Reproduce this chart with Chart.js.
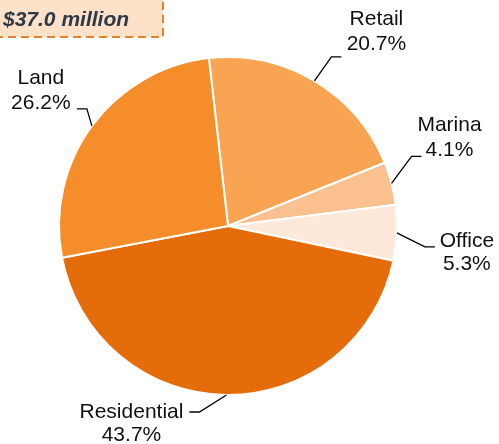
<!DOCTYPE html>
<html lang="en">
<head>
  <meta charset="UTF-8" />
  <title>Breakdown</title>
  <script src="https://cdn.jsdelivr.net/npm/chart.js"></script>
  <style>
    * { box-sizing: border-box; }
    body { margin: 0; background: #fff; }
    .wrap { position: relative; width: 499px; height: 444px; }
  </style>
</head>
<body>
  <div class="wrap">
    <canvas id="pieChart" width="499" height="444"></canvas>
  </div>

  <script>
    // data
    const categories = ['Retail', 'Marina', 'Office', 'Residential', 'Land'];
    const shares = [20.7, 4.1, 5.3, 43.7, 26.2];
    const totalLabel = '$37.0 million';

    const sliceColors = ['#F8A453', '#FAC08F', '#FDE9DA', '#E46C0A', '#F58D2A'];

    // leader line + label placement, relative to the slice's outer midpoint
    // [elbow dx, elbow dy, run, text dx, line1 dy, line2 dy]
    const labelLayout = [
      [17, -24, 10, 35, -38, -13],
      [20, -27, 10, 28, -31, -6],
      [28, 14, 10, 32, -6, 17],
      [-27, 17, -10, -58, 0, 23],
      [-5, -17, -10, -36, -31, -6]
    ];

    const totalBox = {
      id: 'totalBox',
      afterDraw(chart) {
        const ctx = chart.ctx;
        ctx.save();
        ctx.fillStyle = '#FDE1C9';
        ctx.fillRect(-10, -10, 173, 47);
        ctx.strokeStyle = '#E8822A';
        ctx.lineWidth = 2;
        ctx.setLineDash([8, 5]);
        ctx.beginPath();
        ctx.moveTo(-5, 37);
        ctx.lineTo(163, 37);
        ctx.lineTo(163, -5);
        ctx.stroke();
        ctx.setLineDash([]);
        ctx.fillStyle = '#2E3A48';
        ctx.font = 'italic bold 21px "Liberation Sans", Arial, sans-serif';
        ctx.textBaseline = 'alphabetic';
        ctx.fillText(totalLabel, 3, 26);
        ctx.restore();
      }
    };

    const sliceLabels = {
      id: 'sliceLabels',
      afterDatasetsDraw(chart) {
        const ctx = chart.ctx;
        const arcs = chart.getDatasetMeta(0).data;
        ctx.save();
        ctx.strokeStyle = '#000';
        ctx.lineWidth = 1.3;
        ctx.fillStyle = '#111';
        ctx.font = '21px "Liberation Sans", Arial, sans-serif';
        ctx.textAlign = 'center';
        ctx.textBaseline = 'middle';
        arcs.forEach((arc, i) => {
          const p = arc.getProps(['x', 'y', 'startAngle', 'endAngle', 'outerRadius'], true);
          const mid = (p.startAngle + p.endAngle) / 2;
          const ex = p.x + Math.cos(mid) * p.outerRadius;
          const ey = p.y + Math.sin(mid) * p.outerRadius;
          const [edx, edy, run, tdx, l1, l2] = labelLayout[i];
          const bx = ex + edx, by = ey + edy;
          ctx.beginPath();
          ctx.moveTo(ex, ey);
          ctx.lineTo(bx, by);
          ctx.lineTo(bx + run, by);
          ctx.stroke();
          const tx = bx + run + tdx;
          ctx.fillText(categories[i], tx, by + l1);
          ctx.fillText(shares[i].toFixed(1) + '%', tx, by + l2);
        });
        ctx.restore();
      }
    };

    new Chart(document.getElementById('pieChart'), {
      type: 'pie',
      data: {
        labels: categories,
        datasets: [{
          data: shares,
          backgroundColor: sliceColors,
          borderColor: '#fff',
          borderWidth: 2
        }]
      },
      options: {
        responsive: false,
        animation: false,
        rotation: -6.5,
        layout: { padding: { left: 58, top: 56, right: 101, bottom: 48 } },
        plugins: {
          legend: { display: false },
          tooltip: { enabled: false }
        }
      },
      plugins: [sliceLabels, totalBox]
    });
  </script>
</body>
</html>
